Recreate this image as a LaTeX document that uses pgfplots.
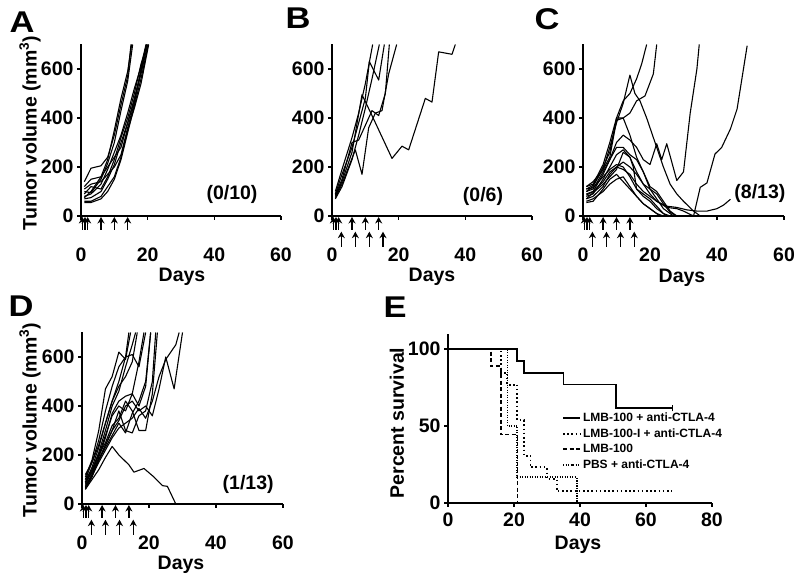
\documentclass[border=0pt]{standalone}
\usepackage{fontspec}
\setmainfont{Liberation Sans}
\usepackage{pgfplots}
\pgfplotsset{compat=1.18}
\usetikzlibrary{arrows.meta}
\pgfplotsset{
 base/.style={scale only axis, anchor=south west, axis lines*=left,
   axis line style={line width=1.6pt}, tick align=outside, major tick length=4pt,
   tick style={black,line width=1.6pt},
   tick label style={font=\bfseries\fontsize{19.5}{20}\selectfont},
   /pgf/number format/assume math mode=true, clip=false},
 tv/.style={base, width=200pt, height=171.5pt, xmin=0,xmax=60,ymin=0,ymax=700,
   xtick={0,20,40,60}, ytick={0,200,400,600}, xticklabel shift=24pt},
}
\tikzset{d/.style={black,line width=1.1pt,line join=round},
  arr/.style={line width=1.4pt,-{Stealth[length=6.5pt,width=7pt]}},
  big/.style={font=\bfseries\fontsize{19.5}{20}\selectfont},
  lab/.style={font=\bfseries\fontsize{30}{30}\selectfont, xscale=1.15}}
\newcommand{\toprow}{\pgfplotsinvokeforeach{0.4,1.2,2,6,10,14}{\draw[arr] (axis cs:##1,-56) -- (axis cs:##1,-4);}}
\newcommand{\botrow}{\pgfplotsinvokeforeach{2.8,7,11.2,15.3}{\draw[arr] (axis cs:##1,-126) -- (axis cs:##1,-64);}}
\begin{document}
\begin{tikzpicture}[x=1pt,y=1pt]
\useasboundingbox (0pt,0pt) rectangle (800pt,583pt);
% ---------------- A
\begin{axis}[tv, at={(81pt,367pt)}]
\addplot[d] coordinates {(1,140)(3,195)(6,205)(8,240)(10,330)(12,455)(14,570)(15,700)};
\addplot[d] coordinates {(1,120)(3,150)(6,160)(8,230)(10,350)(12,480)(14,590)(15.2,700)};
\addplot[d] coordinates {(1,100)(3,95)(6,150)(8,215)(10,300)(12,430)(14,550)(15.5,700)};
\addplot[d] coordinates {(1,80)(3,90)(6,130)(8,190)(10,260)(12,330)(14,420)(16,520)(18,610)(19.5,700)};
\addplot[d] coordinates {(1,90)(3,120)(6,110)(8,160)(10,230)(12,320)(14,400)(16,500)(18,620)(19.8,700)};
\addplot[d] coordinates {(1,70)(3,75)(6,100)(8,150)(10,210)(12,300)(14,380)(16,470)(18,580)(20,700)};
\addplot[d] coordinates {(1,60)(3,60)(6,80)(8,120)(10,160)(12,240)(14,350)(16,440)(18,540)(20.3,700)};
\addplot[d] coordinates {(1,75)(3,100)(6,160)(8,200)(10,240)(12,280)(14,380)(16,480)(18,590)(19.7,700)};
\addplot[d] coordinates {(1,55)(3,55)(6,70)(8,100)(10,150)(12,230)(14,340)(16,450)(18,560)(20.2,700)};
\addplot[d] coordinates {(1,110)(3,130)(6,140)(8,170)(10,200)(12,250)(14,360)(16,460)(18,600)(19.6,700)};
\toprow
\node[big] at (axis cs:45.3,86) {(0/10)};
\end{axis}
% ---------------- B
\begin{axis}[tv, at={(332pt,367pt)}]
\addplot[d] coordinates {(1,100)(3,190)(6,320)(8,420)(10,540)(12.2,700)};
\addplot[d] coordinates {(1,90)(3,170)(6,280)(8,380)(10,480)(11.2,630)(14,555)(15.7,700)};
\addplot[d] coordinates {(1,80)(3,140)(6,260)(9,495)(12,410)(18,235)(21,285)(23,270)(28,480)(30,465)(32,670)(36,660)(37,700)};
\addplot[d] coordinates {(1,75)(3,130)(5,200)(7,270)(9,170)(11,360)(13,420)(15,430)(17,580)(19.4,700)};
\addplot[d] coordinates {(1,85)(3,150)(6,300)(8,310)(10,370)(12,430)(14,410)(16,500)(17.2,700)};
\addplot[d] coordinates {(1,70)(3,120)(6,230)(8,330)(10,440)(12,560)(14.2,700)};
\toprow\botrow
\node[big] at (axis cs:45.3,78) {(0/6)};
\end{axis}
% ---------------- C
\begin{axis}[tv, width=201pt, at={(583pt,367pt)}]
\addplot[d] coordinates {(1,100)(3,120)(6,200)(8,260)(10,400)(12,470)(14,500)(16,560)(17.5,620)(19,700)};
\addplot[d] coordinates {(1,120)(3,130)(6,210)(8,300)(10,400)(12,400)(14,420)(16,470)(18.5,490)(21,580)(22,700)};
\addplot[d] coordinates {(1,110)(3,125)(6,190)(8,280)(10,380)(12,460)(14,575)(15.5,500)(17,470)(19,400)(22,280)(24,200)(26,130)(28,90)(30,60)(33,20)(35,0)};
\addplot[d] coordinates {(1,90)(3,100)(6,170)(8,230)(10,300)(12,330)(14,310)(16,280)(18,230)(20,210)(22,295)(23.5,230)(25,295)(28,145)(30,180)(32,420)(34,600)(34.7,700)};
\addplot[d] coordinates {(1,80)(3,90)(6,150)(8,200)(10,250)(12,270)(14,240)(16,180)(18,130)(20,90)(22,60)(25,35)(28,30)(30,20)(33,0)(35,117)(37,135)(39.4,253)(41.4,280)(44,355)(46,437)(49,695)};
\addplot[d] coordinates {(1,70)(3,80)(6,120)(8,170)(10,200)(12,190)(14,170)(16,130)(18,100)(20,80)(22,60)(25,40)(28,35)(31,25)(34,20)(37,20)(40,30)(42,45)(44,68)};
\addplot[d] coordinates {(1,60)(3,70)(6,100)(8,130)(10,150)(12,160)(14,120)(16,80)(18,50)(20,30)(22,10)(24,0)};
\addplot[d] coordinates {(1,110)(3,115)(6,160)(8,190)(10,210)(12,200)(14,160)(16,110)(18,80)(20,60)(22,30)(25,0)};
\addplot[d] coordinates {(1,70)(3,95)(6,130)(8,160)(10,190)(12,260)(14,240)(15,200)(16,110)(18,90)(20,70)(22,40)(24,10)(26,0)};
\addplot[d] coordinates {(1,100)(3,110)(6,180)(8,230)(10,280)(12,280)(14,250)(16,230)(18,180)(20,120)(22,100)(24,60)(26,20)(28,0)};
\addplot[d] coordinates {(1,120)(3,140)(6,190)(8,240)(10,390)(12,400)(14,330)(16,240)(18,180)(20,110)(22,70)(24,30)(27,0)};
\addplot[d] coordinates {(1,55)(3,60)(6,110)(8,150)(10,170)(12,140)(14,110)(16,80)(18,50)(20,30)(22,10)(23,0)};
\addplot[d] coordinates {(1,85)(3,100)(6,140)(8,180)(10,200)(12,220)(14,200)(16,170)(18,130)(20,110)(21,100)(22,90)(24,50)(26,15)(28,0)};
\toprow\botrow
\node[big] at (axis cs:52.8,90) {(8/13)};
\end{axis}
% ---------------- D
\begin{axis}[tv, width=201pt, at={(82pt,79pt)}]
\addplot[d] coordinates {(1,110)(3,180)(5,300)(7,470)(9,520)(11,620)(13,590)(14.5,700)};
\addplot[d] coordinates {(1,100)(3,170)(5,260)(7,380)(9,480)(11,560)(13,600)(15,610)(17,560)(19,700)};
\addplot[d] coordinates {(1,90)(3,150)(5,230)(7,330)(9,420)(11,500)(13,600)(14,700)};
\addplot[d] coordinates {(1,80)(3,140)(5,210)(7,300)(9,400)(11,460)(13,560)(15,650)(16,700)};
\addplot[d] coordinates {(1,70)(3,120)(5,190)(7,270)(9,370)(11,420)(13,440)(15,450)(17,580)(18.5,700)};
\addplot[d] coordinates {(1,100)(3,140)(5,200)(7,280)(9,360)(11,400)(13,380)(15,450)(17,400)(19,480)(20.5,700)};
\addplot[d] coordinates {(1,60)(3,110)(5,180)(7,240)(9,300)(11,380)(13,300)(15,290)(17,360)(19,380)(21,500)(22,700)};
\addplot[d] coordinates {(1,85)(3,130)(5,200)(7,250)(9,320)(11,350)(13,420)(15,380)(17,300)(19,300)(21,450)(22.5,700)};
\addplot[d] coordinates {(1,75)(3,120)(5,180)(7,230)(9,280)(11,330)(13,290)(15,370)(17,420)(19,500)(20.5,700)};
\addplot[d] coordinates {(1,120)(3,170)(5,240)(7,330)(9,420)(11,480)(13,520)(15,580)(16.5,700)};
\addplot[d] coordinates {(1,90)(3,130)(5,180)(7,240)(9,300)(11,340)(13,400)(15,420)(17,380)(19,400)(21,360)(23,470)(25,600)(27.5,470)(30,700)};
\addplot[d] coordinates {(1,65)(3,115)(5,170)(7,220)(9,270)(11,310)(13,330)(15,350)(17,390)(19,350)(21,420)(23,520)(25,590)(28,650)(29,700)};
\addplot[d] coordinates {(1,60)(3,100)(5,140)(7,190)(9,235)(11,200)(12.5,180)(14,160)(15.5,130)(18.5,145)(21.5,110)(24,75)(25.5,72)(28,0)};
\toprow\botrow
\node[big] at (axis cs:49.6,78) {(1/13)};
\end{axis}
% ---------------- E
\begin{axis}[base, width=264pt, height=169.4pt, at={(448pt,80pt)},
  xmin=0,xmax=80,ymin=0,ymax=110, xtick={0,20,40,60,80}, ytick={0,50,100},
  xticklabel shift=2pt,
  legend cell align=left,
  legend style={at={(axis cs:34.5,60)}, anchor=north west, draw=none, fill=none,
    font=\bfseries\fontsize{12}{12}\selectfont, inner sep=0pt, row sep=1.5pt,
    nodes={inner sep=2pt}}]
\addplot[black, line width=1.8pt] coordinates {(0,100)(21,100)(21,92.3)(23,92.3)(23,84.6)(35,84.6)(35,76.9)(51,76.9)(51,61.5)(68,61.5)};
\addlegendentry{LMB-100 + anti-CTLA-4}
\addplot[black, line width=1.9pt, dash pattern=on 1.6pt off 2.6pt] coordinates {(0,100)(16,100)(16,84.6)(18,84.6)(18,76.9)(21,76.9)(21,53.8)(23,53.8)(23,30.8)(25,30.8)(25,23.1)(30,23.1)(30,15.4)(33,15.4)(33,7.7)(68,7.7)};
\addlegendentry{LMB-100-I + anti-CTLA-4}
\addplot[black, line width=1.4pt, dash pattern=on 4pt off 2.5pt] coordinates {(0,100)(13,100)(13,88.9)(16,88.9)(16,44.4)(21,44.4)(21,0)};
\addlegendentry{LMB-100}
\addplot[black, line width=1.7pt, dash pattern=on 1.2pt off 1.3pt] coordinates {(0,100)(18,100)(18,50)(21,50)(21,16.7)(39,16.7)(39,0)};
\addlegendentry{PBS + anti-CTLA-4}
\addplot[black, line width=1.3pt, forget plot] coordinates {(68,59.5)(68,63.8)};
\end{axis}
% ---------------- labels
\node[lab] at (22pt,561pt) {A};
\node[lab] at (298pt,565pt) {B};
\node[lab] at (547pt,564pt) {C};
\node[lab] at (21pt,277pt) {D};
\node[lab] at (395pt,276pt) {E};
\node[big,rotate=90] at (30pt,450pt) {Tumor volume (mm\textsuperscript{3})};
\node[big,rotate=90] at (30pt,163pt) {Tumor volume (mm\textsuperscript{3})};
\node[big,rotate=90] at (397pt,160pt) {Percent survival};
\node[big] at (182pt,306pt) {Days};
\node[big] at (432pt,306pt) {Days};
\node[big] at (682pt,305pt) {Days};
\node[big] at (181pt,18pt) {Days};
\node[big] at (578pt,38pt) {Days};
\end{tikzpicture}
\end{document}
